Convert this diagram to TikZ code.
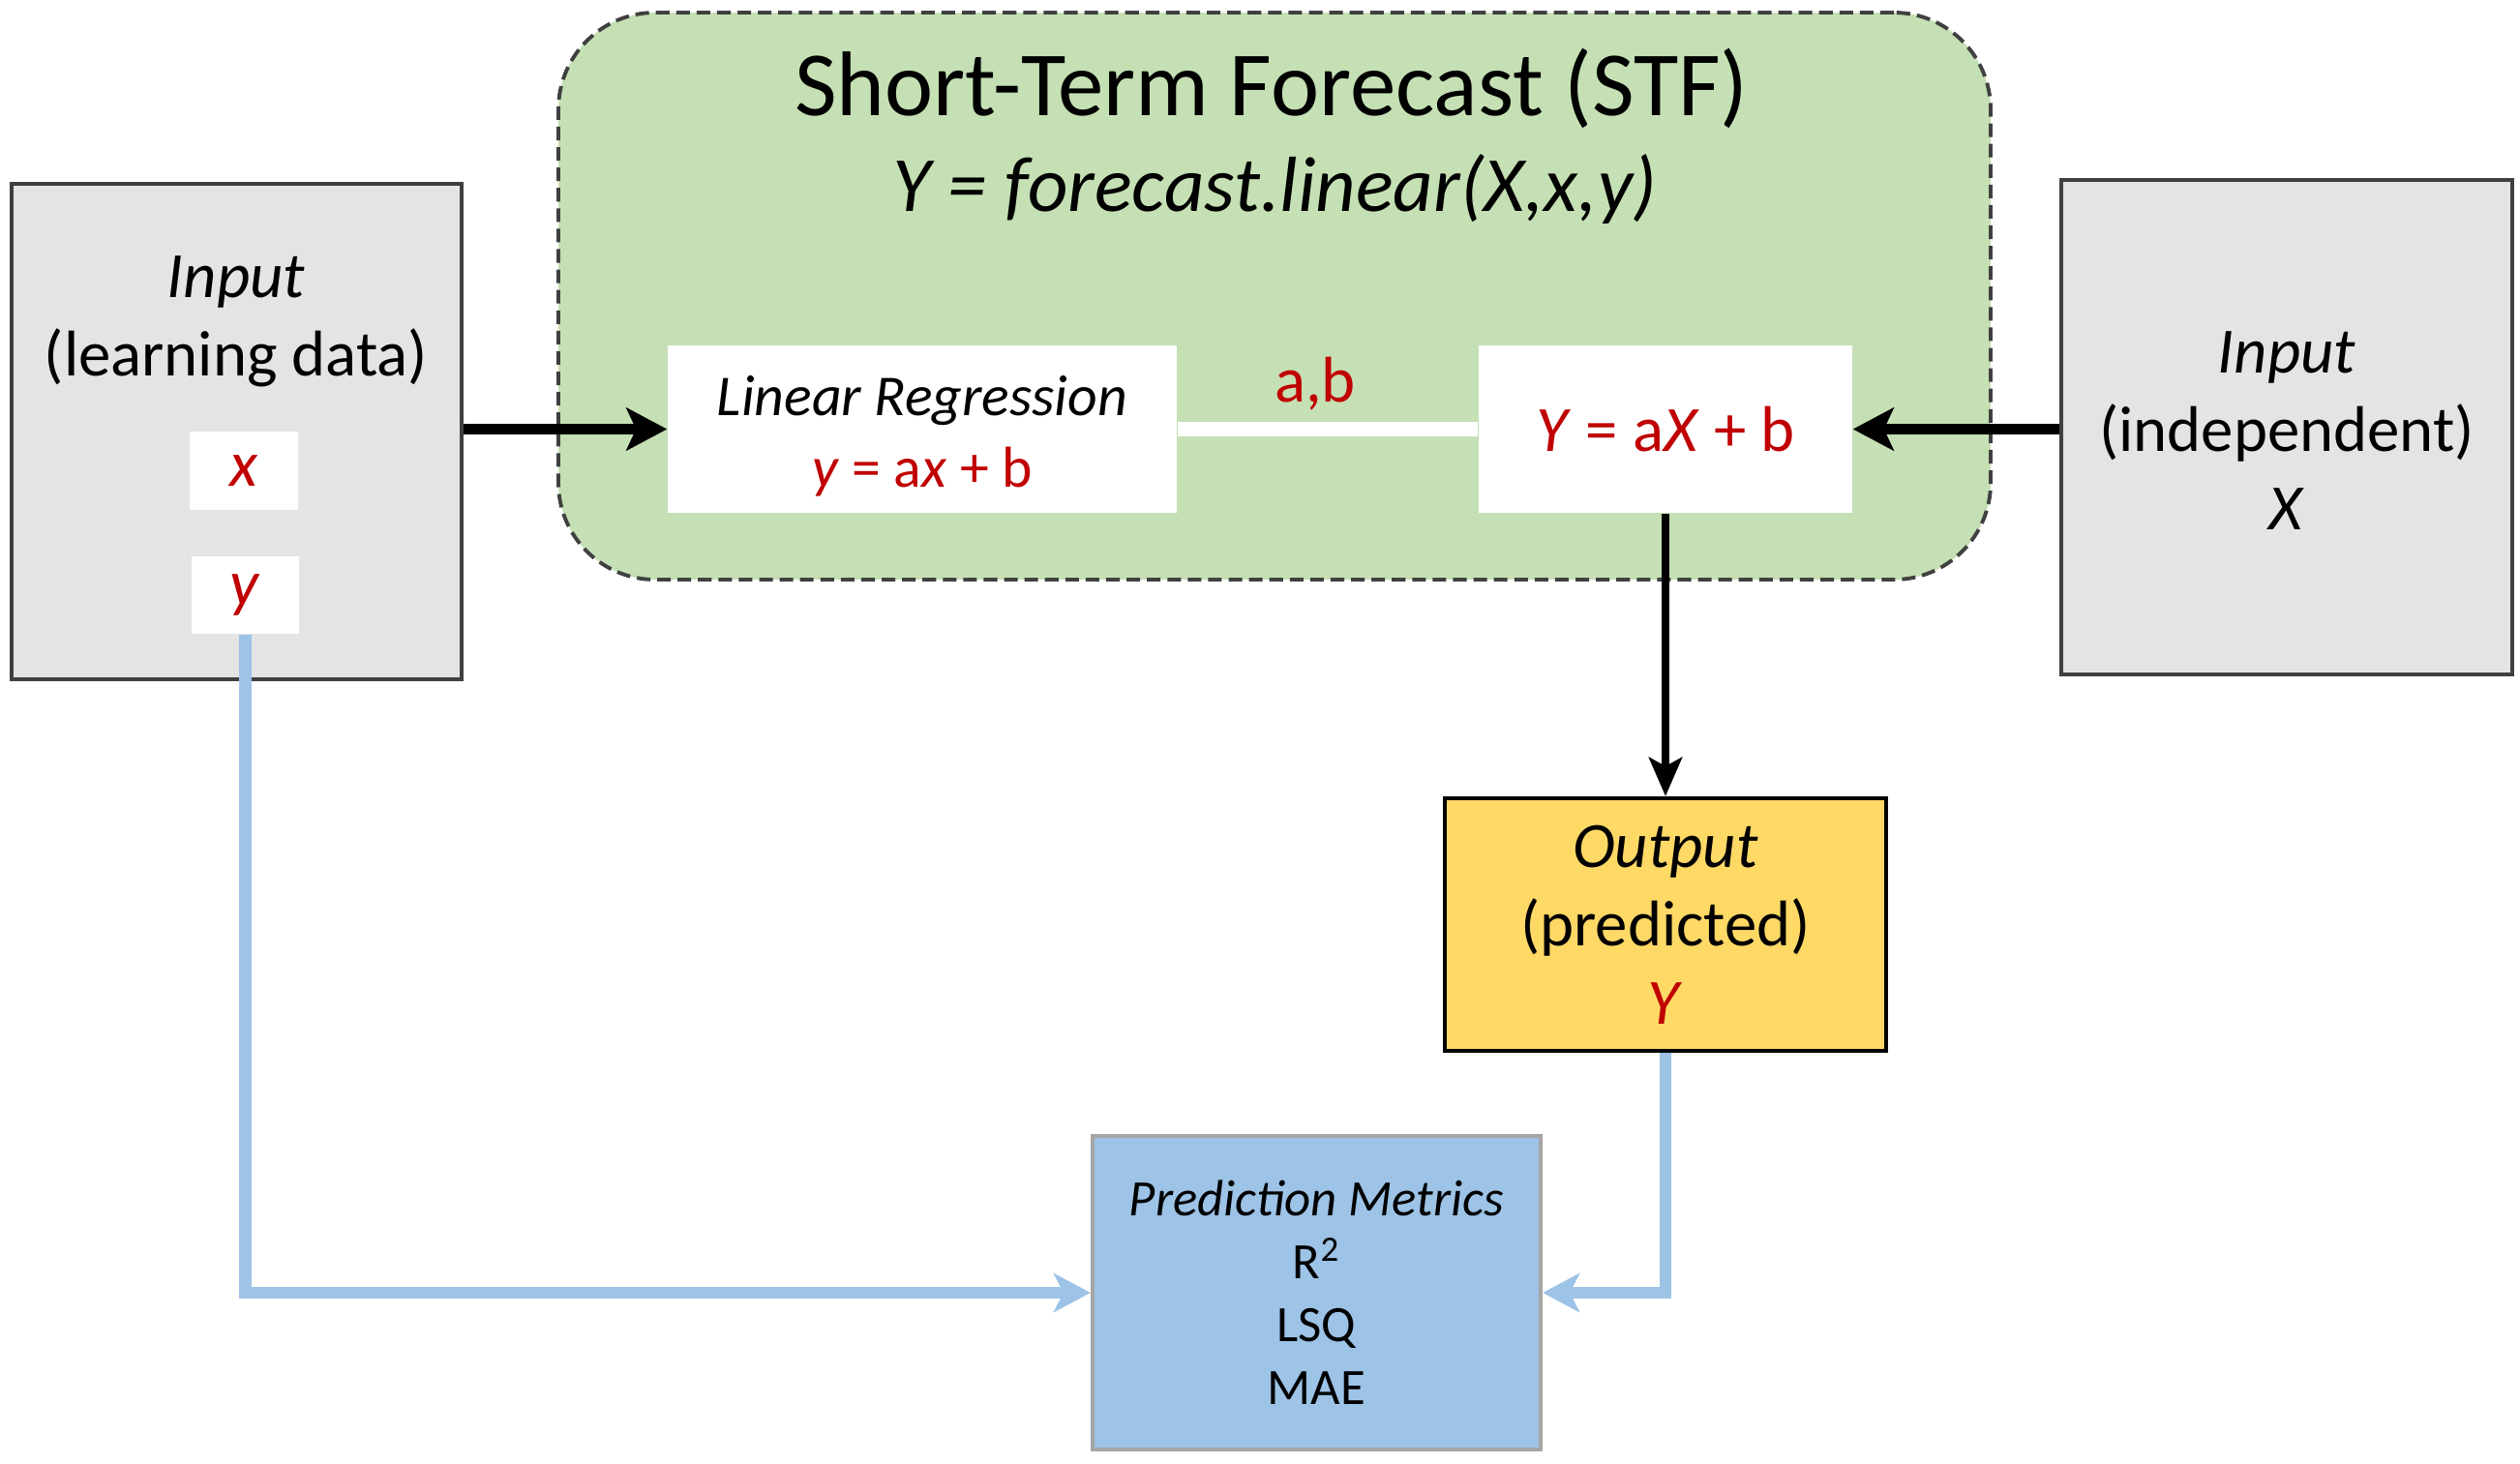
\documentclass[tikz,border=0pt]{standalone}
\usepackage{fontspec}
\setmainfont{Carlito}
\usetikzlibrary{arrows.meta,positioning}

\definecolor{stfgreen}{HTML}{C5E0B4}
\definecolor{boxgray}{HTML}{E4E4E4}
\definecolor{edgegray}{HTML}{404040}
\definecolor{outgold}{HTML}{FFD966}
\definecolor{metblue}{HTML}{9DC3E6}
\definecolor{metedge}{HTML}{A5A5A5}
\definecolor{eqred}{HTML}{C00000}

\tikzset{
  inbox/.style={draw=edgegray, line width=1.4pt, fill=boxgray, inner sep=0pt, align=center,
    font=\fontsize{19}{23}\selectfont},
  whitebox/.style={fill=white, inner sep=0pt, align=center},
  txt/.style={inner sep=0pt, align=center},
  blackarrow/.style={line width=3.2pt, -{Stealth[length=4.2mm,width=4.4mm,inset=1mm]}},
  downarrow/.style={line width=2.4pt, -{Stealth[length=4mm,width=3.4mm,inset=0.9mm]}},
  bluearrow/.style={draw=metblue, line width=3.5pt, -{Stealth[length=3.8mm,width=4mm,inset=1mm]}},
}

\begin{document}
\begin{tikzpicture}

% Fix the page size
\useasboundingbox (0,0) rectangle (26.04,-15.12);

% Short-Term Forecast block
\node[draw=edgegray, line width=1.1pt, dash pattern=on 4pt off 2pt, fill=stfgreen,
  rounded corners=1cm, minimum width=14.8cm, minimum height=5.86cm] (stf) at (13.17,-3.06) {};
\node[txt, font=\fontsize{27}{31}\selectfont] (stftitle) at (13.14,-0.91) {Short-Term Forecast (STF)};
\node[txt, font=\fontsize{23}{27}\selectfont\itshape] (stfcall) at (13.17,-1.95) {Y = forecast.linear(X,x,y)};

% Linear regression box
\node[whitebox, minimum width=5.26cm, minimum height=1.73cm, font=\fontsize{17}{21}\selectfont]
  (lr) at (9.53,-4.435) {\rule{0pt}{0.55cm}\textit{Linear Regression}\\\textcolor{eqred}{\textit{y} = a\textit{x} + b}};

% Forecast equation box
\node[whitebox, minimum width=3.86cm, minimum height=1.73cm, font=\fontsize{19}{23}\selectfont, text=eqred]
  (fc) at (17.21,-4.435) {\textit{Y} = a\textit{X} + b};

% Coefficients passed from regression to forecast
\draw[white, line width=4.4pt] (lr.east) -- (fc.west);
\node[txt, text=eqred, font=\fontsize{19}{23}\selectfont] (coef) at (13.59,-3.97) {a,b};

% Left input (learning data)
\node[inbox, minimum width=4.65cm, minimum height=5.12cm] (inL) at (2.445,-4.46) {};
\node[txt, font=\fontsize{19}{23}\selectfont] (inLtxt) at (2.44,-3.32) {\textit{Input}\\(learning data)};
\node[whitebox, minimum width=1.12cm, minimum height=0.81cm, text=eqred, font=\fontsize{19}{23}\selectfont]
  (xin) at (2.52,-4.865) {\textit{x}};
\node[whitebox, minimum width=1.11cm, minimum height=0.80cm, text=eqred, font=\fontsize{19}{23}\selectfont]
  (yin) at (2.535,-6.15) {\textit{y}};

% Right input (independent)
\node[inbox, minimum width=4.66cm, minimum height=5.11cm] (inR) at (23.63,-4.415)
  {\rule{0pt}{0.5cm}\textit{Input}\\(independent)\\\textit{X}};

% Output box
\node[draw=black, line width=1.2pt, fill=outgold, minimum width=4.56cm, minimum height=2.61cm,
  inner sep=0pt, align=center, font=\fontsize{19}{23}\selectfont]
  (out) at (17.21,-9.555) {\textit{Output}\\(predicted)\\\textcolor{eqred}{\textit{Y}}};

% Prediction metrics box
\node[draw=metedge, line width=1.2pt, fill=metblue, minimum width=4.63cm, minimum height=3.24cm,
  inner sep=0pt, align=center, font=\fontsize{15}{18.5}\selectfont]
  (met) at (13.605,-13.36) {\textit{Prediction Metrics}\\R\textsuperscript{2}\\LSQ\\MAE};

% Black arrows
\draw[blackarrow] (inL.east |- lr.west) -- (lr.west);
\draw[blackarrow] (inR.west |- fc.east) -- (fc.east);
\draw[downarrow] (fc.south) -- (out.north);

% Blue arrows into the metrics
\draw[bluearrow] (yin.south) |- (met.west);
\draw[bluearrow] (out.south) |- (met.east);

\end{tikzpicture}
\end{document}
